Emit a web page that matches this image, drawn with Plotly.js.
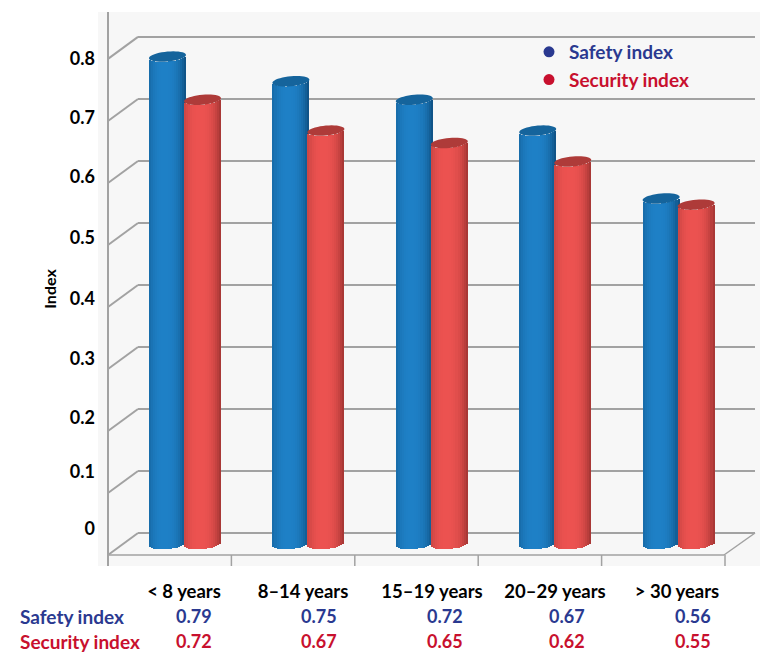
<!DOCTYPE html>
<html>
<head>
<meta charset="utf-8">
<script src="https://cdn.plot.ly/plotly-3.0.1.min.js"></script>
<style>html,body{margin:0;padding:0;background:#fff}#chart{width:760px;height:653px}</style>
</head>
<body>
<div id="chart"></div>
<script>
// Index values by length of service
const categories = ['< 8 years', '8–14 years', '15–19 years', '20–29 years', '> 30 years'];
const safetyIndex = [0.79, 0.75, 0.72, 0.67, 0.56];
const securityIndex = [0.72, 0.67, 0.65, 0.62, 0.55];
const axisLabels = ['0', '0.1', '0.2', '0.3', '0.4', '0.5', '0.6', '0.7', '0.8'];
const wallValues = [0, 0.1, 0.2, 0.3, 0.4, 0.5, 0.6, 0.7, 0.8];

// Plot frame in page pixels, and the scale of the data axes
const FRAME = {left: 98, right: 760, top: 12, bottom: 566};
const PX_PER_GROUP = 123.4, GROUP0_PX = 185, PX_PER_UNIT = 617, ZERO_PX = 544;
const dx = px => px / PX_PER_GROUP;
const dy = px => px / PX_PER_UNIT;
const xAt = px => (px - GROUP0_PX) / PX_PER_GROUP;
const yAt = px => (ZERO_PX - px) / PX_PER_UNIT;
const paperX = px => (px - FRAME.left) / (FRAME.right - FRAME.left);
const paperY = px => (FRAME.bottom - px) / (FRAME.bottom - FRAME.top);

// Cylinder geometry
const STRIPS = 18, HALF_W = dx(18.5), BAR_OFFSET = dx(17.5), CAP_H = dy(5), CAP_TILT = dy(1.6);

const mix = (a, b, t) => {
  const c = a.map((v, i) => Math.round(v + (b[i] - v) * t));
  return `rgb(${c[0]},${c[1]},${c[2]})`;
};
const xs = categories.map((_, i) => i);
const traces = [];

function addCylinders(values, offset, edge, mid) {
  for (let s = 0; s < STRIPS; s++) {
    const u = (s + 0.5) / STRIPS * 2 - 1;
    const arc = -CAP_H * Math.sqrt(1 - u * u) + CAP_TILT * u;
    const t = 1 - Math.pow(Math.abs(u + 0.15) / 1.15, 2.6);
    traces.push({
      type: 'bar', x: xs, y: values,
      base: xs.map(() => arc),
      offset: offset + u * HALF_W - HALF_W / STRIPS,
      width: 2 * HALF_W / STRIPS,
      marker: {color: mix(edge, mid, t), line: {width: 0}},
      showlegend: false, hoverinfo: 'skip'
    });
  }
}
addCylinders(safetyIndex, -BAR_OFFSET, [14, 78, 128], [30, 128, 198]);
addCylinders(securityIndex, BAR_OFFSET, [160, 52, 50], [236, 82, 80]);

// Legend entries
[['Safety index', '#2a3990'], ['Security index', '#c8102e']].forEach(([name, color], i) => {
  traces.push({
    type: 'scatter', mode: 'markers', x: [null], y: [null],
    name: `<span style="color:${color}">${name}</span>`,
    legendgroup: 'g' + i,
    marker: {color, size: 11}
  });
});

// Walls of the box: grid lines on the back wall, running out to the front edge
const GRID = '#a2a2a2';
const WALL_SCALE = 1.005, WALL_SHIFT = dy(11), FRONT_DROP = dy(22);
const BACK_X = xAt(138), FRONT_X = xAt(108), RIGHT_X = xAt(755), FRONT_RIGHT_X = xAt(724);
const shapes = [];
const seg = (x0, y0, x1, y1, w = 2) => shapes.push({
  type: 'line', layer: 'below', xref: 'x', yref: 'y', x0, y0, x1, y1,
  line: {color: GRID, width: w}
});
wallValues.forEach(v => {
  const y = v * WALL_SCALE + WALL_SHIFT;
  seg(BACK_X, y, RIGHT_X, y);
  seg(FRONT_X, y - FRONT_DROP, BACK_X, y);
});
seg(FRONT_X, yAt(FRAME.top), FRONT_X, yAt(FRAME.bottom));
seg(FRONT_X, yAt(555), FRONT_RIGHT_X, yAt(555), 1.5);
seg(FRONT_RIGHT_X, yAt(555), RIGHT_X, yAt(533), 1.5);
for (let i = 1; i <= categories.length; i++) {
  seg(FRONT_X + i, yAt(555), FRONT_X + i, yAt(FRAME.bottom), 1.5);
}

// Dark elliptical caps sitting on top of each cylinder
function addCaps(values, offset, color) {
  values.forEach((v, i) => {
    const pts = [];
    for (let k = 0; k < 40; k++) {
      const a = k / 40 * 2 * Math.PI;
      const px = i + offset + HALF_W * Math.cos(a);
      const py = v + CAP_H * Math.sin(a) + CAP_TILT * Math.cos(a);
      pts.push((k ? 'L' : 'M') + px.toFixed(4) + ',' + py.toFixed(5));
    }
    shapes.push({
      type: 'path', layer: 'above', xref: 'x', yref: 'y',
      path: pts.join(' ') + ' Z', fillcolor: color, line: {width: 0}
    });
  });
}
addCaps(safetyIndex, -BAR_OFFSET, '#15649c');
addCaps(securityIndex, BAR_OFFSET, '#ae3b39');

// Value rows under the category labels
const FONT = 'Lato, "Noto Sans", sans-serif';
const ROWS = [
  {name: 'Safety index', values: safetyIndex, color: '#2a3990', y: 616},
  {name: 'Security index', values: securityIndex, color: '#c8102e', y: 641}
];
const COLUMN_SHIFT = [8.5, 11, 13, 12, 14];
const annotations = [];
ROWS.forEach(r => {
  annotations.push({
    xref: 'paper', yref: 'paper', x: paperX(18), y: paperY(r.y), xanchor: 'left', yanchor: 'middle',
    text: r.name, showarrow: false, font: {family: FONT, size: 19, weight: 700, color: r.color}
  });
  r.values.forEach((v, i) => annotations.push({
    xref: 'x', yref: 'paper', x: i, xshift: COLUMN_SHIFT[i], y: paperY(r.y), xanchor: 'center', yanchor: 'middle',
    text: v.toFixed(2), showarrow: false, font: {family: FONT, size: 18, weight: 700, color: r.color}
  }));
});

// Printed positions of the axis labels and category labels
const LABEL_PX = [529, 472, 418, 359, 299, 238, 177, 118, 59];
const CATEGORY_PX = [184, 303, 432, 555, 677];

const layout = {
  width: 760, height: 653,
  margin: {l: FRAME.left, r: 0, t: FRAME.top, b: 653 - FRAME.bottom},
  paper_bgcolor: '#ffffff', plot_bgcolor: '#f7f7f7',
  barmode: 'overlay', showlegend: true, bargap: 0,
  font: {family: FONT, color: '#000'},
  xaxis: {
    range: [xAt(FRAME.left), xAt(FRAME.right)], fixedrange: true,
    tickmode: 'array', tickvals: CATEGORY_PX.map(xAt), ticktext: categories,
    ticks: 'outside', ticklen: 9, tickcolor: 'rgba(0,0,0,0)', tickwidth: 0,
    tickfont: {family: FONT, size: 18.5, weight: 700, color: '#000'},
    showgrid: false, zeroline: false, showline: false
  },
  yaxis: {
    range: [yAt(FRAME.bottom), yAt(FRAME.top)], fixedrange: true,
    tickmode: 'array', tickvals: LABEL_PX.map(yAt), ticktext: axisLabels,
    ticks: '', ticklabelstandoff: 2,
    tickfont: {family: FONT, size: 18, weight: 700, color: '#000'},
    showgrid: false, zeroline: false, showline: false,
    title: {text: 'Index', standoff: 9, font: {family: FONT, size: 16, weight: 700, color: '#000'}}
  },
  legend: {
    x: paperX(529), y: paperY(33), xanchor: 'left', yanchor: 'top',
    bgcolor: 'rgba(0,0,0,0)', borderwidth: 0, tracegroupgap: 0, itemwidth: 30,
    font: {family: FONT, size: 19, weight: 700}
  },
  shapes, annotations
};

Plotly.newPlot('chart', traces, layout, {displayModeBar: false, staticPlot: true});
</script>
</body>
</html>
